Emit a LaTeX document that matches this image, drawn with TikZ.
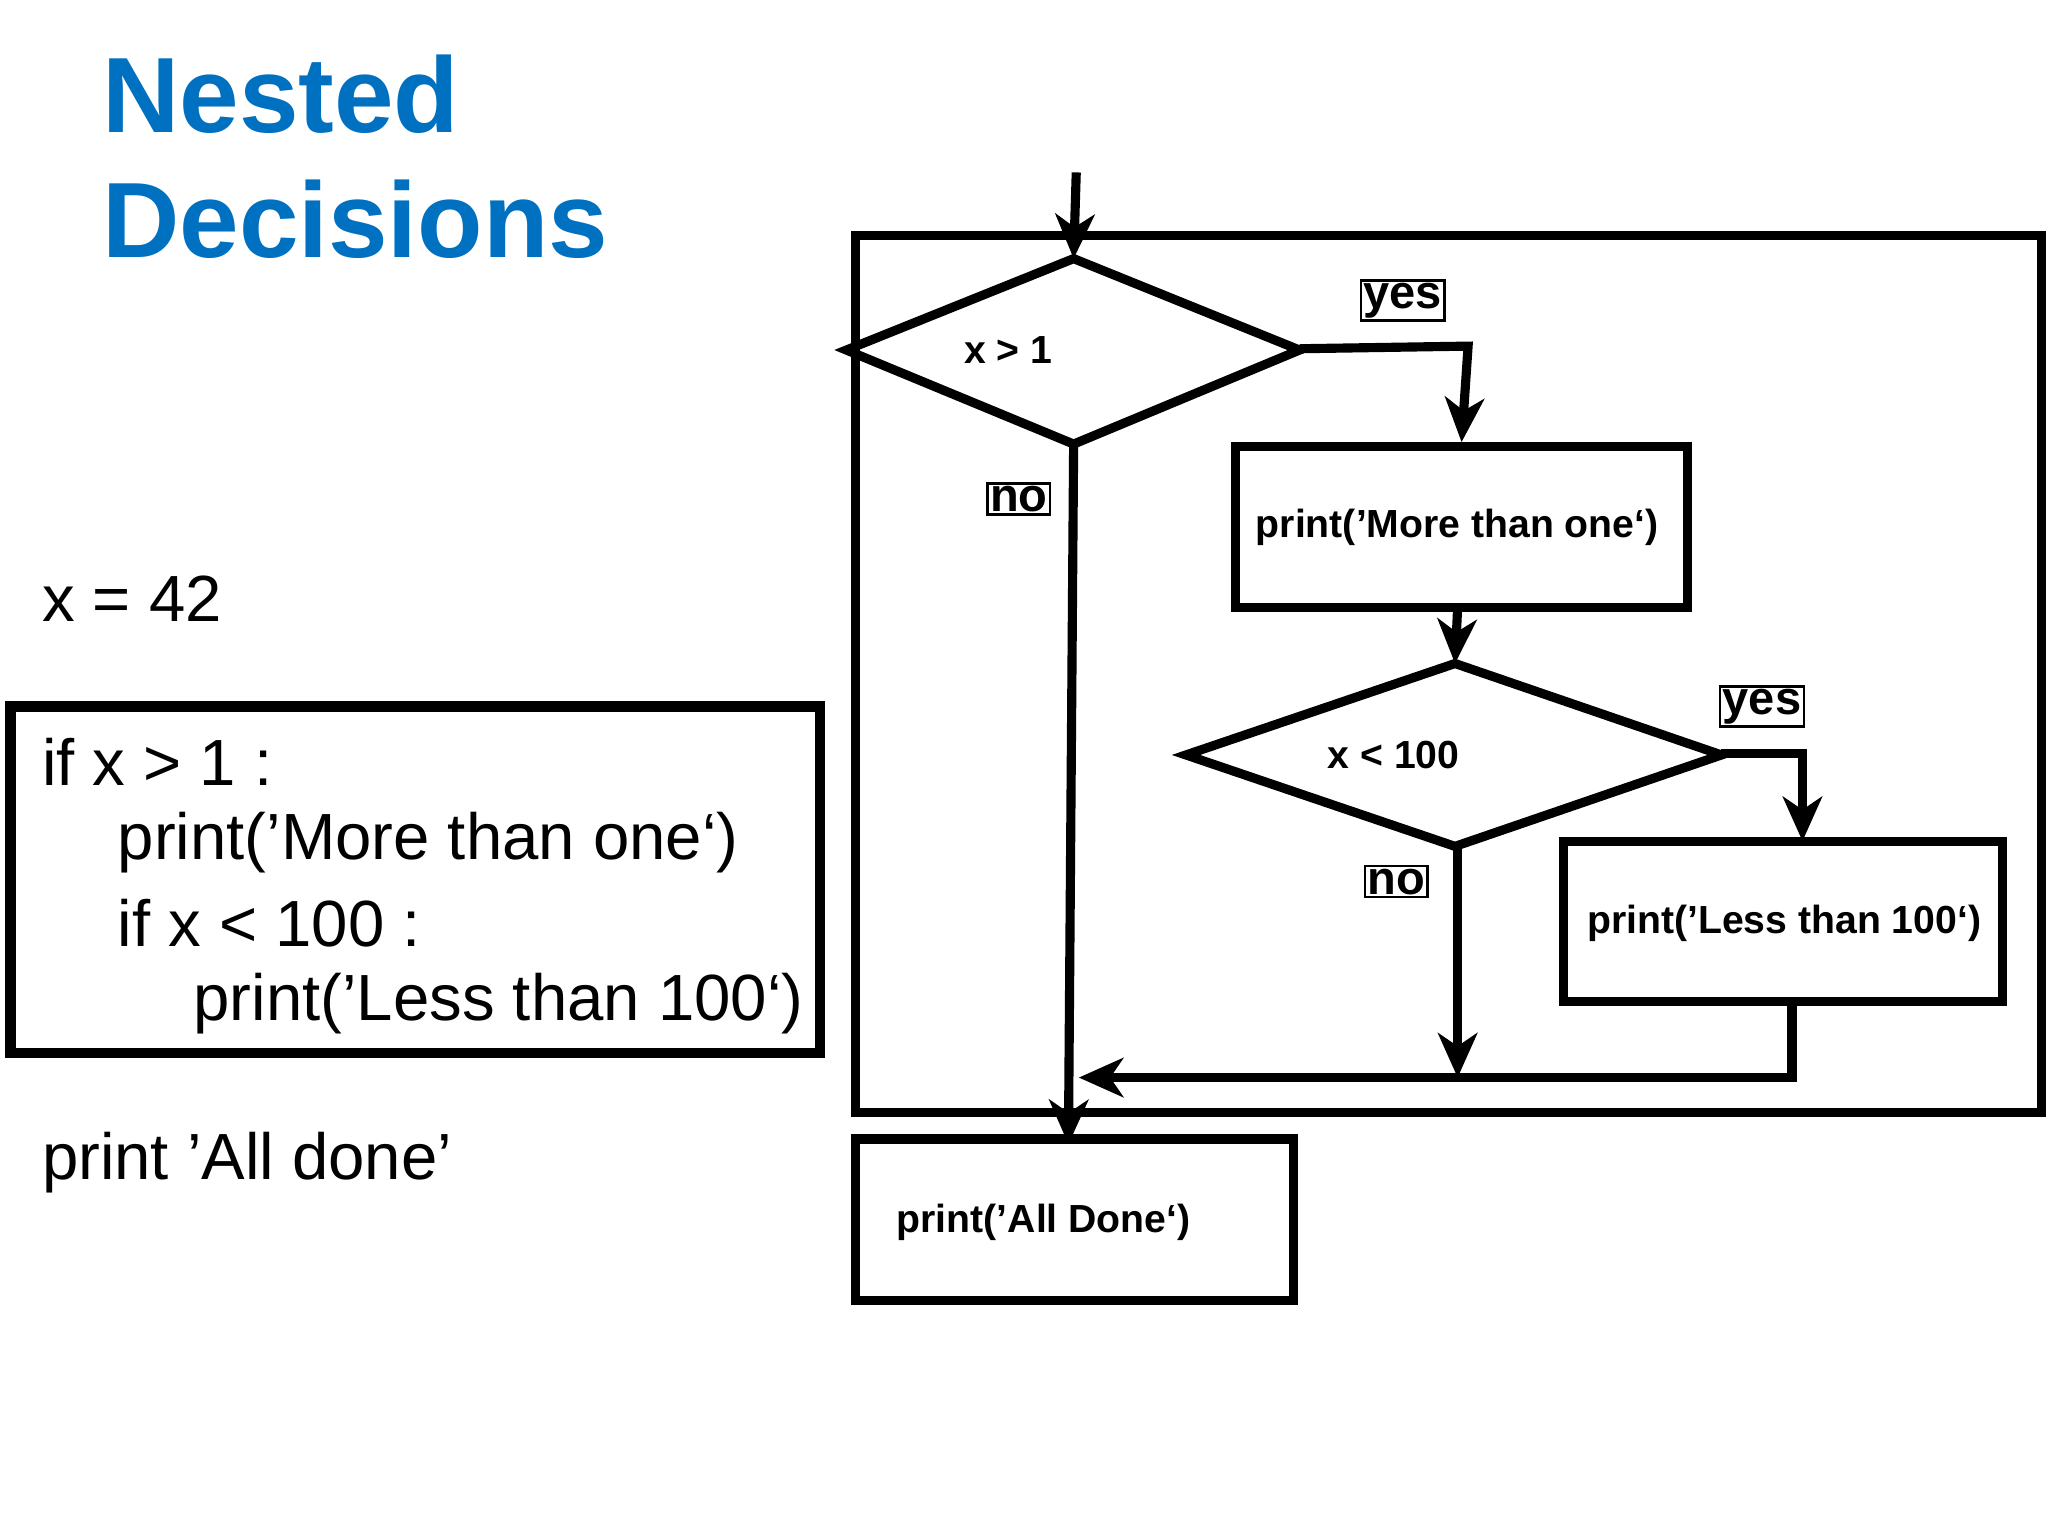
\documentclass[tikz,border=0pt]{standalone}
\usepackage{fontspec}
\setmainfont{Liberation Sans}
\usetikzlibrary{arrows.meta,shapes.geometric}
\definecolor{tblue}{RGB}{0,112,192}
\begin{document}
\begin{tikzpicture}[x=1pt,y=-1pt,
  fl/.style={line width=7pt},
  arr/.style={fl,-{Stealth[length=34pt,width=30pt,inset=10pt]}},
  lbl/.style={draw,line width=2pt,inner sep=2pt,font=\fontsize{36}{40}\selectfont\bfseries},
  btxt/.style={font=\fontsize{30}{34}\selectfont\bfseries},
  code/.style={font=\fontsize{50}{56}\selectfont,anchor=west,inner sep=0pt}]
\useasboundingbox (0,0) rectangle (1568,1176);
\node[anchor=west,inner sep=0pt,text=tblue,font=\fontsize{82}{96}\selectfont\bfseries,align=left] (title) at (78,120) {Nested\\Decisions};
\node[code] (x42) at (32,458) {x = 42};
\draw[line width=8pt] (8,541) rectangle (628,806);
\node[code] (c1) at (32,583) {if x > 1 :};
\node[code] (c2) at (90,645) {print('More than one‘)};
\node[code] (c3) at (90,707) {if x < 100 :};
\node[code] (c4) at (148,768) {print('Less than 100‘)};
\node[code] (pd) at (32,890) {print 'All done'};
% flowchart
\draw[fl] (655,180) rectangle (1563,852);
\coordinate (start) at (824,132);
\draw[fl] (648,268) -- (822,198) -- (995,268) -- (822,340) -- cycle;
\coordinate (d1t) at (822,198); \coordinate (d1r) at (995,267); \coordinate (d1b) at (822,340);
\node[btxt] (t1) at (772,268) {x > 1};
\draw[arr] (start) -- (d1t);
\node[lbl] (yes1) at (1074,230) {yes};
\node[draw,fl,minimum width=346pt,minimum height=123pt,inner sep=0pt] (r1) at (1119,403.5) {};
\node[btxt,anchor=west] (r1t) at (958,404) {print('More than one‘)};
\draw[arr] (d1r) -- (1124,265) -- (r1.north);
\draw[fl] (908,578) -- (1114,508) -- (1318,578) -- (1114,648) -- cycle;
\coordinate (d2t) at (1114,508); \coordinate (d2r) at (1318,577); \coordinate (d2b) at (1116,648);
\node[btxt] (t2) at (1067,578) {x < 100};
\draw[arr] (1116,465) -- (d2t);
\node[lbl] (yes2) at (1349,541) {yes};
\node[draw,fl,minimum width=336pt,minimum height=123pt,inner sep=0pt] (r2) at (1365,705.5) {};
\node[btxt] (r2t) at (1366,707) {print('Less than 100‘)};
\draw[arr] (d2r) -- (1380,577) -- (1380,644);
\node[lbl] (no2) at (1069,675) {no};
\coordinate (j2) at (1116,825);
\draw[arr] (d2b) -- (j2);
\coordinate (j1) at (826,825);
\draw[arr] (1372,767) -- (1372,825) -- (j1);
\node[lbl] (no1) at (780,382) {no};
\node[draw,fl,minimum width=335pt,minimum height=124pt,inner sep=0pt] (r3) at (822.5,934) {};
\node[btxt,anchor=west] (r3t) at (683,936) {print('All Done‘)};
\draw[arr] (d1b) -- (818,876);
\end{tikzpicture}
\end{document}
